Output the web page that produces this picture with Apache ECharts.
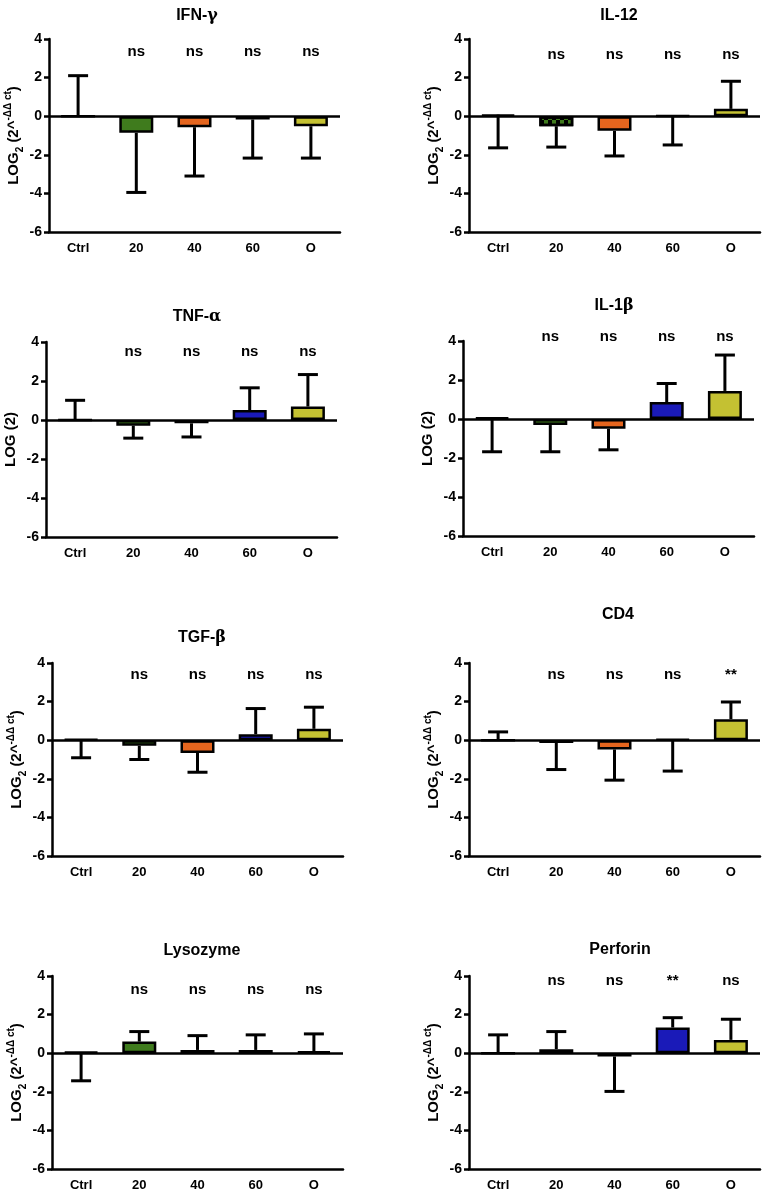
<!DOCTYPE html>
<html>
<head>
<meta charset="utf-8">
<script src="https://cdn.jsdelivr.net/npm/echarts@6/dist/echarts.min.js"></script>
<style>
  html, body { margin: 0; padding: 0; background: #fff; }
  #chart { width: 766px; height: 1197px; }
</style>
</head>
<body>
<div id="chart"></div>
<script>
const categories = ['Ctrl', '20', '40', '60', 'O'];

// bar means and error-bar end values (log2 fold change)
const ifnMean = [0, -0.86, -0.57, -0.17, -0.52];
const ifnErr = [2.1, -3.95, -3.1, -2.17, -2.17];
const ifnSig = ['', 'ns', 'ns', 'ns', 'ns'];

const il12Mean = [0.08, -0.52, -0.76, 0.03, 0.38];
const il12Err = [-1.64, -1.6, -2.06, -1.49, 1.81];
const il12Sig = ['', 'ns', 'ns', 'ns', 'ns'];

const tnfMean = [0, -0.29, -0.17, 0.51, 0.69];
const tnfErr = [1.01, -0.93, -0.87, 1.65, 2.33];
const tnfSig = ['', 'ns', 'ns', 'ns', 'ns'];

const il1bMean = [0.07, -0.31, -0.5, 0.87, 1.44];
const il1bErr = [-1.68, -1.68, -1.58, 1.82, 3.28];
const il1bSig = ['', 'ns', 'ns', 'ns', 'ns'];

const tgfMean = [0.05, -0.29, -0.66, 0.31, 0.59];
const tgfErr = [-0.91, -1.0, -1.66, 1.64, 1.71];
const tgfSig = ['', 'ns', 'ns', 'ns', 'ns'];

const cd4Mean = [0, -0.14, -0.48, 0.05, 1.09];
const cd4Err = [0.43, -1.52, -2.07, -1.6, 1.98];
const cd4Sig = ['', 'ns', 'ns', 'ns', '**'];

const lysMean = [0.06, 0.6, 0.17, 0.17, 0.09];
const lysErr = [-1.43, 1.12, 0.91, 0.95, 1.0];
const lysSig = ['', 'ns', 'ns', 'ns', 'ns'];

const perfMean = [0, 0.21, -0.17, 1.33, 0.69];
const perfErr = [0.95, 1.12, -1.98, 1.84, 1.76];
const perfSig = ['', 'ns', 'ns', '**', 'ns'];

const yTicks = [-6, -4, -2, 0, 2, 4];

const barColors = ['#ffffff', '#3f7b1d', '#e5651e', '#1a1ab8', '#c4c132'];
const FONT = '"Liberation Sans", Arial, sans-serif';

const panels = [
  { title: ['IFN-', 'γ'], mean: ifnMean, err: ifnErr, sig: ifnSig, sigY: 3.35, log2: true,
    left: 49, top: 39, height: 193, titleX: 192, titleY: 3 },
  { title: ['IL-12', ''], mean: il12Mean, err: il12Err, sig: il12Sig, sigY: 3.2, log2: true, checker: true,
    left: 469, top: 39, height: 193, titleX: 614, titleY: 3 },
  { title: ['TNF-', 'α'], mean: tnfMean, err: tnfErr, sig: tnfSig, sigY: 3.5, log2: false,
    left: 46, top: 342, height: 195, titleX: 192, titleY: 304 },
  { title: ['IL-1', 'β'], mean: il1bMean, err: il1bErr, sig: il1bSig, sigY: 4.2, log2: false,
    left: 463, top: 341, height: 195, titleX: 609, titleY: 293 },
  { title: ['TGF-', 'β'], mean: tgfMean, err: tgfErr, sig: tgfSig, sigY: 3.4, log2: true,
    left: 52, top: 663, height: 193, titleX: 197, titleY: 625 },
  { title: ['CD4', ''], mean: cd4Mean, err: cd4Err, sig: cd4Sig, sigY: 3.36, log2: true,
    left: 469, top: 663, height: 193, titleX: 613, titleY: 602 },
  { title: ['Lysozyme', ''], mean: lysMean, err: lysErr, sig: lysSig, sigY: 3.3, log2: true,
    left: 52, top: 976, height: 193, titleX: 197, titleY: 938 },
  { title: ['Perforin', ''], mean: perfMean, err: perfErr, sig: perfSig, sigY: 3.75, log2: true,
    left: 469, top: 976, height: 193, titleX: 615, titleY: 937 }
];

const nameRich = {
  a: { fontFamily: FONT, fontWeight: 'bold', fontSize: 15, color: '#000', lineHeight: 22 },
  sub: { fontFamily: FONT, fontWeight: 'bold', fontSize: 10, color: '#000', lineHeight: 10, verticalAlign: 'bottom' },
  sup: { fontFamily: FONT, fontWeight: 'bold', fontSize: 10, color: '#000', lineHeight: 10, verticalAlign: 'top' }
};

const option = {
  backgroundColor: '#fff',
  animation: false,
  title: [], grid: [], xAxis: [], yAxis: [], series: []
};

panels.forEach((p, k) => {
  option.title.push({
    text: '{t|' + p.title[0] + '}' + (p.title[1] ? '{g|' + p.title[1] + '}' : ''),
    left: p.titleX, top: p.titleY, textAlign: 'center',
    textStyle: {
      rich: {
        t: { fontFamily: FONT, fontWeight: 'bold', fontSize: 16, color: '#000' },
        g: { fontFamily: '"DejaVu Serif", serif', fontSize: 16, color: '#000' }
      }
    }
  });
  option.grid.push({ left: p.left, top: p.top, width: 291, height: p.height });
  option.xAxis.push({
    type: 'category', gridIndex: k, data: categories,
    axisLine: { onZero: false, lineStyle: { color: '#000', width: 2.5 } },
    axisTick: { alignWithLabel: true, length: 5, lineStyle: { width: 2.5 } },
    axisLabel: { color: '#000', fontFamily: FONT, fontWeight: 'bold', fontSize: 13, margin: 10 }
  });
  option.yAxis.push({
    type: 'value', gridIndex: k, min: -6, max: 4, interval: 2,
    name: p.log2 ? '{a|LOG}{sub|2}{a| (2^}{sup|-ΔΔ ct}{a|)}' : '{a|LOG (2)}',
    nameLocation: 'middle', nameGap: 24, nameRotate: 90,
    nameTextStyle: { rich: nameRich },
    axisLine: { show: true, lineStyle: { color: '#000', width: 2.5 } },
    axisTick: { show: true, length: 5, lineStyle: { width: 2.5 } },
    axisLabel: { color: '#000', fontFamily: FONT, fontWeight: 'bold', fontSize: 14, margin: 7,
      customValues: yTicks },
    splitLine: { show: false }
  });
  option.series.push({
    type: 'bar', xAxisIndex: k, yAxisIndex: k, barWidth: 34,
    data: p.mean.map((v, i) => ({
      value: v,
      itemStyle: {
        color: barColors[i], borderColor: '#000', borderWidth: 2.5,
        decal: (p.checker && i === 1) ? {
          symbol: 'rect', symbolSize: 1, color: '#000',
          dashArrayX: [[4, 4], [0, 4, 4, 0]], dashArrayY: [4, 0]
        } : undefined
      }
    })),
    markLine: {
      silent: true, symbol: 'none', label: { show: false },
      lineStyle: { color: '#000', width: 2.5, type: 'solid' },
      data: [{ yAxis: 0 }]
    },
    z: 2
  });
  option.series.push({
    type: 'custom', xAxisIndex: k, yAxisIndex: k, z: 3,
    data: p.mean.map((v, i) => [i, v, p.err[i]]),
    renderItem: (params, api) => {
      const a = api.coord([api.value(0), api.value(1)]);
      const b = api.coord([api.value(0), api.value(2)]);
      const cap = 10;
      const st = { stroke: '#000', lineWidth: 3 };
      return {
        type: 'group',
        children: [
          { type: 'line', shape: { x1: a[0], y1: a[1], x2: b[0], y2: b[1] }, style: st },
          { type: 'line', shape: { x1: b[0] - cap, y1: b[1], x2: b[0] + cap, y2: b[1] }, style: st }
        ]
      };
    }
  });
  option.series.push({
    type: 'custom', xAxisIndex: k, yAxisIndex: k, z: 4, clip: false,
    data: p.sig.map((s, i) => [i, p.sigY]),
    renderItem: (params, api) => {
      const c = api.coord([api.value(0), api.value(1)]);
      return {
        type: 'text',
        style: {
          x: c[0], y: c[1], text: p.sig[params.dataIndex],
          align: 'center', verticalAlign: 'middle',
          font: 'bold 15px ' + FONT, fill: '#000'
        }
      };
    }
  });
});

const chart = echarts.init(document.getElementById('chart'));
chart.setOption(option);
</script>
</body>
</html>
